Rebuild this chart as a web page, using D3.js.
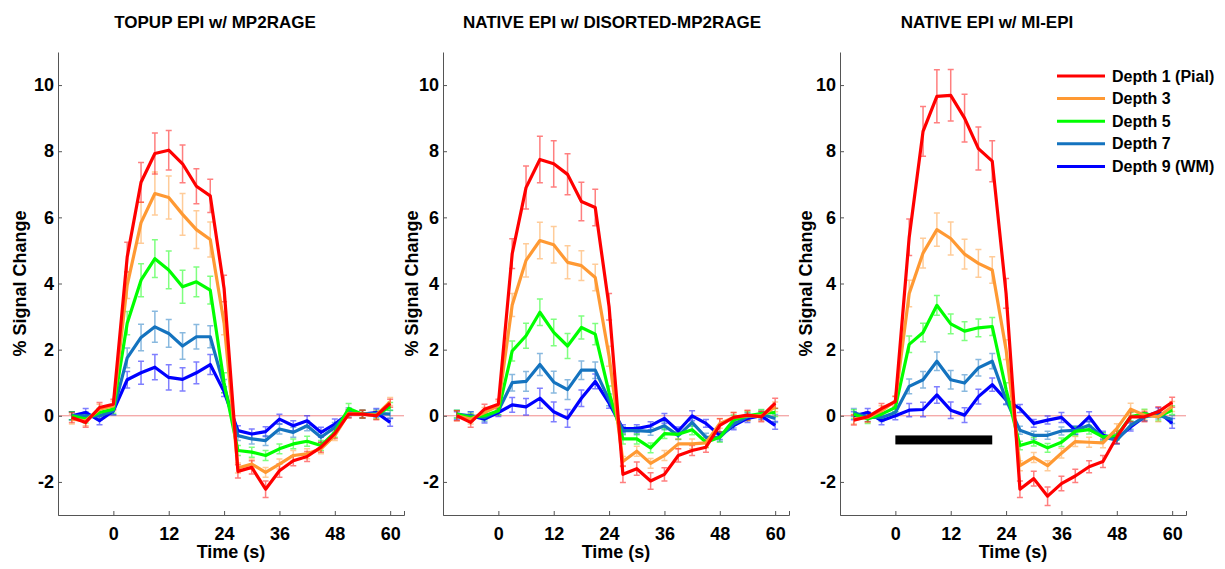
<!DOCTYPE html>
<html>
<head>
<meta charset="utf-8">
<script src="https://cdn.jsdelivr.net/npm/d3@7"></script>
<style>
  body { margin: 0; background: #fff; }
  svg text { font-family: "Liberation Sans", Arial, sans-serif; font-weight: bold; }
</style>
</head>
<body>
<svg id="chart" width="1225" height="569"></svg>
<script>
// time points (s)
var times = [-9,-6,-3,0,3,6,9,12,15,18,21,24,27,30,33,36,39,42,45,48,51,54,57,60];
var depths = ["Depth 1 (Pial)", "Depth 3", "Depth 5", "Depth 7", "Depth 9 (WM)"];
var colors = ["#ff0000", "#ff9933", "#00ff00", "#1473bf", "#0000ff"];
var titles = ["TOPUP EPI w/ MP2RAGE", "NATIVE EPI w/ DISORTED-MP2RAGE", "NATIVE EPI w/ MI-EPI"];
var xTicks = [0, 12, 24, 36, 48, 60];
var yTicks = [-2, 0, 2, 4, 6, 8, 10];
// stimulus block shown in the third panel
var stimBlock = [0, 21];
var stimLevel = -0.73;

// panel 1 : TOPUP EPI
var topupMean = [
  [-0.05,-0.2,0.25,0.35, 4.8,7.06,7.93,8.03,7.62,6.94,6.65,3.85, -1.68,-1.56,-2.22,-1.66,-1.36,-1.23,-0.95,-0.54, 0.05,0.05,0.0,0.38],
  [-0.1,-0.15,0.2,0.3, 3.95,5.84,6.72,6.6,6.09,5.63,5.33,2.8, -1.58,-1.46,-1.71,-1.46,-1.2,-1.15,-1.0,-0.6, 0.07,0.05,0.02,0.43],
  [0.0,-0.1,0.1,0.2, 2.8,4.1,4.75,4.41,3.9,4.05,3.8,1.0, -1.05,-1.1,-1.2,-1.0,-0.85,-0.77,-0.9,-0.5, 0.22,0.05,0.02,0.28],
  [0.0,0.0,0.0,0.15, 1.75,2.37,2.69,2.49,2.11,2.39,2.39,0.9, -0.6,-0.7,-0.75,-0.4,-0.5,-0.3,-0.65,-0.35, 0.12,0.05,0.07,0.05],
  [0.0,0.1,-0.15,0.15, 1.09,1.3,1.47,1.16,1.1,1.3,1.55,0.73, -0.45,-0.55,-0.48,-0.1,-0.3,-0.15,-0.5,-0.25, 0.07,0.05,0.1,-0.2]
];
var topupErr = [
  [0.15,0.15,0.15,0.15, 0.45,0.6,0.62,0.6,0.57,0.53,0.5,0.4, 0.2,0.2,0.25,0.2,0.15,0.15,0.15,0.15, 0.12,0.12,0.12,0.12],
  [0.15,0.15,0.15,0.15, 0.4,0.62,0.65,0.65,0.63,0.57,0.53,0.35, 0.15,0.15,0.15,0.15,0.15,0.15,0.15,0.15, 0.12,0.12,0.12,0.12],
  [0.12,0.12,0.12,0.12, 0.35,0.5,0.57,0.57,0.5,0.45,0.42,0.3, 0.15,0.15,0.15,0.15,0.15,0.15,0.15,0.15, 0.15,0.12,0.12,0.12],
  [0.12,0.12,0.12,0.12, 0.3,0.4,0.47,0.42,0.4,0.37,0.33,0.2, 0.15,0.15,0.15,0.15,0.15,0.15,0.15,0.15, 0.12,0.12,0.12,0.12],
  [0.12,0.12,0.12,0.12, 0.25,0.35,0.38,0.38,0.35,0.33,0.3,0.15, 0.15,0.15,0.15,0.15,0.15,0.15,0.15,0.15, 0.12,0.12,0.12,0.12]
];

// panel 2 : NATIVE EPI w/ distorted MP2RAGE
var nativeMean = [
  [0.0,-0.2,0.2,0.35, 4.9,6.9,7.75,7.62,7.3,6.48,6.3,3.3, -1.77,-1.6,-1.97,-1.77,-1.2,-1.05,-0.95,-0.29, -0.05,0.02,-0.03,0.38],
  [0.0,-0.1,0.1,0.3, 3.35,4.7,5.3,5.17,4.64,4.54,4.18,1.8, -1.38,-1.07,-1.44,-1.2,-0.85,-0.85,-0.82,-0.23, -0.05,0.0,0.0,0.27],
  [0.05,-0.05,0.0,0.15, 1.96,2.42,3.13,2.52,2.11,2.67,2.47,0.7, -0.7,-0.7,-0.97,-0.54,-0.56,-0.42,-0.8,-0.65, -0.13,0.0,0.07,0.1],
  [0.05,0.0,-0.05,0.15, 1.0,1.04,1.55,1.02,0.79,1.38,1.38,0.48, -0.45,-0.45,-0.47,-0.3,-0.6,-0.2,-0.65,-0.65, -0.25,-0.03,0.05,-0.08],
  [0.0,0.0,-0.1,0.1, 0.33,0.27,0.53,0.12,-0.08,0.53,1.04,0.38, -0.39,-0.39,-0.3,-0.08,-0.46,0.0,-0.23,-0.6, -0.3,-0.08,0.0,-0.29]
];
var nativeErr = [
  [0.15,0.15,0.15,0.15, 0.45,0.65,0.7,0.7,0.62,0.58,0.55,0.4, 0.25,0.2,0.25,0.2,0.2,0.15,0.15,0.2, 0.15,0.15,0.15,0.15],
  [0.15,0.15,0.15,0.15, 0.35,0.5,0.55,0.55,0.5,0.45,0.4,0.3, 0.15,0.15,0.15,0.15,0.15,0.15,0.15,0.15, 0.15,0.15,0.15,0.15],
  [0.12,0.12,0.12,0.12, 0.3,0.38,0.4,0.4,0.38,0.35,0.32,0.2, 0.15,0.15,0.15,0.15,0.15,0.15,0.15,0.15, 0.15,0.12,0.12,0.12],
  [0.12,0.12,0.12,0.12, 0.25,0.3,0.33,0.33,0.3,0.28,0.25,0.18, 0.12,0.12,0.12,0.12,0.12,0.12,0.12,0.12, 0.12,0.12,0.12,0.12],
  [0.12,0.12,0.12,0.12, 0.22,0.25,0.3,0.3,0.27,0.25,0.22,0.15, 0.12,0.12,0.12,0.15,0.12,0.15,0.12,0.12, 0.12,0.12,0.12,0.12]
];

// panel 3 : NATIVE EPI w/ MI-EPI
var miepiMean = [
  [-0.13,-0.03,0.22,0.43, 5.4,8.6,9.66,9.69,9.0,8.08,7.7,3.7, -2.22,-1.9,-2.43,-2.05,-1.82,-1.54,-1.38,-0.64, -0.03,-0.03,0.12,0.41],
  [-0.1,-0.05,0.15,0.45, 3.7,4.92,5.63,5.36,4.89,4.61,4.41,2.0, -1.51,-1.26,-1.51,-1.13,-0.78,-0.8,-0.82,-0.39, 0.2,0.02,-0.03,0.28],
  [0.05,-0.1,0.05,0.25, 2.16,2.52,3.34,2.78,2.56,2.66,2.7,0.8, -0.9,-0.78,-0.97,-0.8,-0.47,-0.42,-0.64,-0.6, -0.03,0.07,-0.03,0.17],
  [0.1,-0.05,-0.05,0.1, 0.89,1.09,1.65,1.09,0.99,1.45,1.65,0.48, -0.44,-0.59,-0.59,-0.46,-0.44,-0.29,-0.64,-0.74, -0.29,-0.03,0.02,-0.11],
  [0.0,0.1,-0.15,0.0, 0.17,0.19,0.63,0.17,0.02,0.58,0.94,0.48, 0.22,-0.23,-0.13,-0.05,-0.44,-0.03,-0.59,-0.69, -0.34,-0.03,0.12,-0.23]
];
var miepiErr = [
  [0.15,0.15,0.15,0.15, 0.55,0.75,0.8,0.78,0.72,0.65,0.62,0.45, 0.25,0.22,0.28,0.22,0.2,0.18,0.18,0.2, 0.15,0.15,0.15,0.15],
  [0.15,0.15,0.15,0.15, 0.4,0.45,0.5,0.5,0.45,0.42,0.4,0.3, 0.15,0.15,0.15,0.15,0.15,0.15,0.15,0.15, 0.18,0.15,0.15,0.15],
  [0.13,0.13,0.13,0.13, 0.25,0.28,0.3,0.3,0.28,0.27,0.27,0.2, 0.13,0.13,0.13,0.13,0.13,0.13,0.13,0.13, 0.13,0.13,0.13,0.13],
  [0.12,0.12,0.12,0.12, 0.22,0.25,0.28,0.28,0.25,0.25,0.23,0.15, 0.12,0.12,0.12,0.12,0.12,0.12,0.12,0.12, 0.12,0.12,0.12,0.12],
  [0.12,0.12,0.12,0.12, 0.2,0.22,0.25,0.25,0.22,0.22,0.2,0.12, 0.12,0.12,0.12,0.15,0.12,0.15,0.12,0.15, 0.12,0.12,0.12,0.15]
];

var panelMeans = [topupMean, nativeMean, miepiMean];
var panelErrs = [topupErr, nativeErr, miepiErr];

// layout
var panelLeft = [58, 443, 840],
    panelW = 346,
    plotTop = 52,
    plotBottom = 515;
var titleX = [215, 612, 987],
    ylabX = [20, 412, 806];

var svg = d3.select("svg#chart");

var y = d3.scaleLinear().domain([-3, 11]).range([plotBottom, plotTop]);

// plain hyphen for negatives, like the original figure
var plainFmt = function(d) { return String(d); };

panelMeans.forEach(function(means, p) {
    var errs = panelErrs[p];
    var x = d3.scaleLinear().domain([-12, 63]).range([0, panelW]);

    var g = svg.append("g")
        .attr("transform", "translate(" + panelLeft[p] + ",0)");

    // zero line
    g.append("line")
        .attr("x1", x(-12)).attr("x2", x(63))
        .attr("y1", y(0)).attr("y2", y(0))
        .attr("stroke", "#f08a8a")
        .attr("stroke-width", 1);

    // stimulus bar only in last panel
    if (p == 2) {
        g.append("rect")
            .attr("x", x(stimBlock[0]))
            .attr("width", x(stimBlock[1]) - x(stimBlock[0]))
            .attr("y", y(stimLevel) - 4.5)
            .attr("height", 9)
            .attr("fill", "#000");
    }

    // error bars, deepest first so red sits on top
    for (var s = means.length - 1; s >= 0; s--) {
        var pts = times.map(function(t, i) { return {t: t, m: means[s][i], e: errs[s][i]}; });
        var eg = g.append("g")
            .attr("stroke", colors[s])
            .attr("stroke-opacity", 0.5)
            .attr("stroke-width", 1.5)
            .attr("fill", "none");
        eg.selectAll("path")
            .data(pts)
            .enter()
            .append("path")
            .attr("d", function(d) {
                var cx = x(d.t), y1 = y(d.m - d.e), y2 = y(d.m + d.e);
                return "M" + cx + "," + y1 + "V" + y2 +
                       "M" + (cx - 3) + "," + y1 + "H" + (cx + 3) +
                       "M" + (cx - 3) + "," + y2 + "H" + (cx + 3);
            });
    }

    var line = d3.line()
        .x(function(d, i) { return x(times[i]); })
        .y(function(d) { return y(d); });

    for (var s = means.length - 1; s >= 0; s--) {
        g.append("path")
            .datum(means[s])
            .attr("d", line)
            .attr("fill", "none")
            .attr("stroke", colors[s])
            .attr("stroke-width", 3.2)
            .attr("stroke-linejoin", "round");
    }

    // axes
    var xAxis = g.append("g")
        .attr("transform", "translate(0," + plotBottom + ")")
        .call(d3.axisBottom(x).tickValues(xTicks).tickFormat(plainFmt)
              .tickSizeInner(-4).tickSizeOuter(-4).tickPadding(12));
    var yAxis = g.append("g")
        .call(d3.axisLeft(y).tickValues(yTicks).tickFormat(plainFmt)
              .tickSizeInner(-4).tickSizeOuter(0).tickPadding(4));

    [xAxis, yAxis].forEach(function(a) {
        a.select(".domain").attr("stroke", "#555");
        a.selectAll(".tick line").attr("stroke", "#555");
        a.selectAll("text")
            .attr("fill", "#000")
            .style("font-size", "18px")
            .style("font-family", "'Liberation Sans', Arial, sans-serif")
            .style("font-weight", "bold");
    });

    // x label
    g.append("text")
        .attr("x", panelW / 2)
        .attr("y", 558)
        .style("text-anchor", "middle")
        .style("font-size", "18px")
        .text("Time (s)");

    // y label
    svg.append("text")
        .attr("transform", "translate(" + ylabX[p] + "," + ((plotTop + plotBottom) / 2) + ") rotate(-90)")
        .attr("dy", "0.35em")
        .style("text-anchor", "middle")
        .style("font-size", "18px")
        .text("% Signal Change");

    // title
    svg.append("text")
        .attr("x", titleX[p])
        .attr("y", 28)
        .style("text-anchor", "middle")
        .style("font-size", "17px")
        .text(titles[p]);
});

// legend
var legend = svg.append("g")
    .attr("transform", "translate(1057,76)");

var rows = legend.selectAll("g")
    .data(depths)
    .enter()
    .append("g")
    .attr("transform", function(d, i) { return "translate(0," + (i * 22.6) + ")"; });

rows.append("line")
    .attr("x1", 0).attr("x2", 48)
    .attr("stroke", function(d, i) { return colors[i]; })
    .attr("stroke-width", 3);

rows.append("text")
    .attr("x", 55)
    .attr("dy", "0.35em")
    .style("font-size", "16px")
    .text(function(d) { return d; });
</script>
</body>
</html>
